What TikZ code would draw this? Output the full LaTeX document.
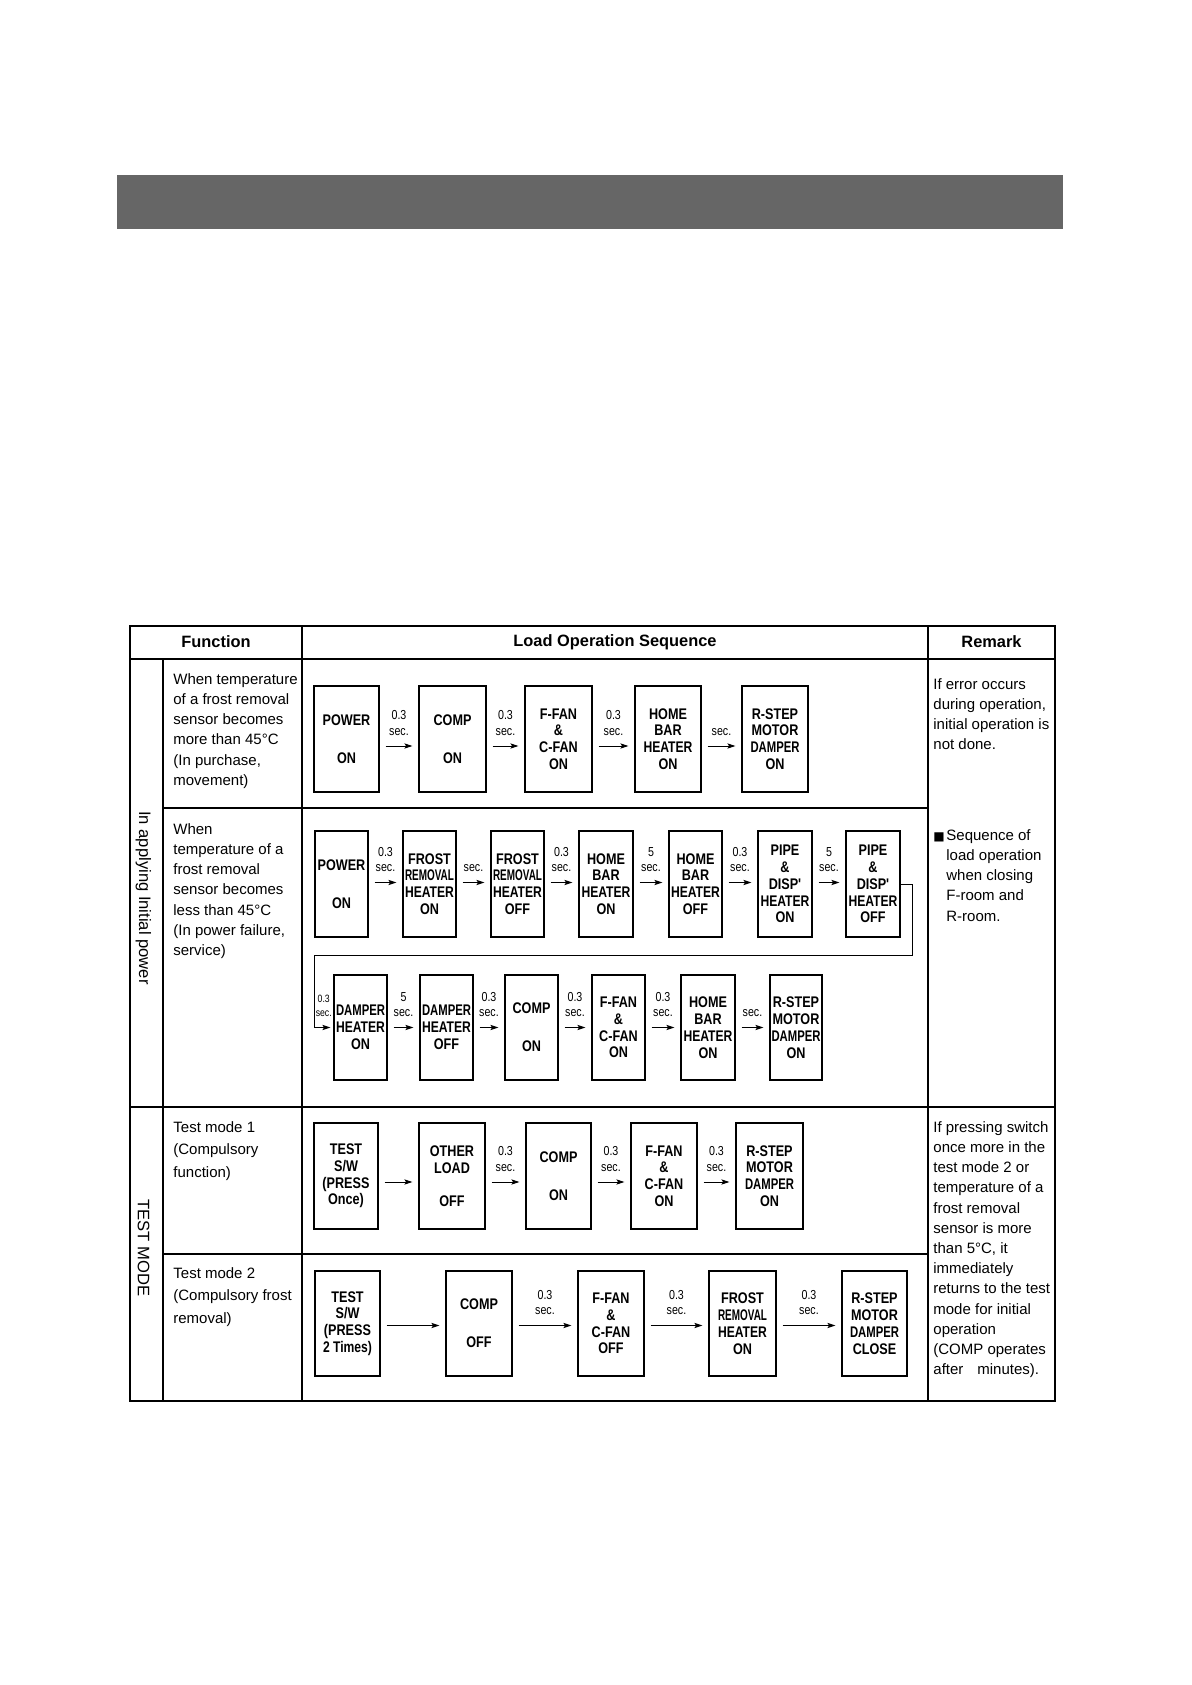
\documentclass[tikz,border=0pt]{standalone}
\usepackage{fontspec}
\usepackage{graphicx}
\setmainfont{Liberation Sans}
\newfontfamily\condfont{Liberation Sans}[FakeStretch=0.82]
\newfontfamily\djv{DejaVu Sans}
\usetikzlibrary{arrows.meta}
\definecolor{barg}{HTML}{666666}
\newlength\fitw
\newcommand\fitl[1]{\settowidth\fitw{#1}\ifdim\fitw>24.5pt\resizebox{24.5pt}{\height}{#1}\else #1\fi}
\newcommand\mkbox[6]{\node[bxs, minimum width={(#4-#2)*0.5pt}, minimum height={(#5-#3)*0.5pt}] (#1) at ({(#2+#4)/2},{(#3+#5)/2}) {#6};}
\begin{document}
\begin{tikzpicture}[x=0.5pt,y=-0.5pt,
  bxs/.style={draw, line width=0.55pt, inner sep=0pt, align=center, font=\condfont\bfseries\fontsize{7.7}{8.4}\selectfont},
  arr/.style={-{Stealth[length=4pt,width=2.6pt,inset=0.8pt]}, line width=0.5pt, shorten <=3pt, shorten >=3pt},
  lbl/.style={inner sep=0pt, align=center, anchor=south, yshift=5pt, font=\condfont\fontsize{6.5}{7.75}\selectfont},
  tbl/.style={line width=0.6pt},
  ftxt/.style={inner sep=0pt, align=left, anchor=north west, font=\fontsize{7.5}{10.1}\selectfont},
  ttxt/.style={ftxt, font=\fontsize{7.5}{11.3}\selectfont},
  hdr/.style={inner sep=0pt, font=\bfseries\fontsize{8.2}{10}\selectfont},
  rot/.style={inner sep=0pt, rotate=-90, font=\fontsize{8.3}{10}\selectfont}]
\fill[white] (0,0) rectangle (1191,1685);
\useasboundingbox (0,0) rectangle (1191,1685);
% title bar
\fill[barg] (117,175) rectangle (1063,229);
% table
\draw[tbl] (130,626) rectangle (1055,1401);
\draw[tbl] (130,659) -- (1055,659);
\draw[tbl] (163,659) -- (163,1401);
\draw[tbl] (302,626) -- (302,1401);
\draw[tbl] (928,626) -- (928,1401);
\draw[tbl] (163,808) -- (928,808);
\draw[tbl] (130,1107) -- (1055,1107);
\draw[tbl] (163,1254) -- (928,1254);
% headers
\node[hdr] (h1) at (216,642) {Function};
\node[hdr] (h2) at (615,642) {Load Operation Sequence};
\node[hdr] (h3) at (991.5,642) {Remark};
\node[rot] (g1) at (143.5,898) {In applying Initial power};
\node[rot] (g2) at (143.5,1248) {TEST MODE};
% function texts
\node[ftxt] (f1) at (173,673) {When temperature\\of a frost removal\\sensor becomes\\more than 45°C\\(In purchase,\\movement)};
\node[ftxt] (f2) at (173,823) {When\\temperature of a\\frost removal\\sensor becomes\\less than 45°C\\(In power failure,\\service)};
\node[ttxt] (f3) at (173,1121) {Test mode 1\\(Compulsory\\function)};
\node[ttxt] (f4) at (173,1267) {Test mode 2\\(Compulsory frost\\removal)};
% remarks
\node[ftxt] (m1) at (933,678) {If error occurs\\during operation,\\initial operation is\\not done.};
\node[ftxt] (m2) at (933,829) {\makebox[6.5pt][l]{\djv\fontsize{6}{6}\selectfont ■}Sequence of\\\hspace*{6.5pt}load operation\\\hspace*{6.5pt}when closing\\\hspace*{6.5pt}F-room and\\\hspace*{6.5pt}R-room.};
\node[ftxt] (m3) at (933,1121) {If pressing switch\\once more in the\\test mode 2 or\\temperature of a\\frost removal\\sensor is more\\than 5°C, it\\immediately\\returns to the test\\mode for initial\\operation\\(COMP operates\\after\hspace{7pt}minutes).};
% row 1
\mkbox{ra}{314}{686}{379}{792}{POWER\\[10.6pt]ON}
\mkbox{rb}{419}{686}{486}{792}{COMP\\[10.6pt]ON}
\mkbox{rc}{525}{686}{592}{792}{F-FAN\\\&\\C-FAN\\ON}
\mkbox{rd}{635}{686}{701}{792}{HOME\\BAR\\\fitl{HEATER}\\ON}
\mkbox{re}{742}{686}{808}{792}{R-STEP\\MOTOR\\\fitl{DAMPER}\\ON}
\draw[arr] ([yshift=-3.5pt]ra.east) -- node[lbl]{0.3\\sec.} ([yshift=-3.5pt]rb.west);
\draw[arr] ([yshift=-3.5pt]rb.east) -- node[lbl]{0.3\\sec.} ([yshift=-3.5pt]rc.west);
\draw[arr] ([yshift=-3.5pt]rc.east) -- node[lbl]{0.3\\sec.} ([yshift=-3.5pt]rd.west);
\draw[arr] ([yshift=-3.5pt]rd.east) -- node[lbl]{sec.} ([yshift=-3.5pt]re.west);
% row 2
\mkbox{sa}{315}{831}{368}{937}{POWER\\[10.6pt]ON}
\mkbox{sb}{403}{831}{456}{937}{FROST\\\fitl{REMOVAL}\\\fitl{HEATER}\\ON}
\mkbox{sc}{491}{831}{544}{937}{FROST\\\fitl{REMOVAL}\\\fitl{HEATER}\\OFF}
\mkbox{sd}{579}{831}{633}{937}{HOME\\BAR\\\fitl{HEATER}\\ON}
\mkbox{se}{669}{831}{722}{937}{HOME\\BAR\\\fitl{HEATER}\\OFF}
\mkbox{sf}{758}{831}{812}{937}{PIPE\\\&\\DISP'\\\fitl{HEATER}\\ON}
\mkbox{sg}{846}{831}{900}{937}{PIPE\\\&\\DISP'\\\fitl{HEATER}\\OFF}
\draw[arr] ([yshift=0.75pt]sa.east) -- node[lbl]{0.3\\sec.} ([yshift=0.75pt]sb.west);
\draw[arr] ([yshift=0.75pt]sb.east) -- node[lbl]{sec.} ([yshift=0.75pt]sc.west);
\draw[arr] ([yshift=0.75pt]sc.east) -- node[lbl]{0.3\\sec.} ([yshift=0.75pt]sd.west);
\draw[arr] ([yshift=0.75pt]sd.east) -- node[lbl]{5\\sec.} ([yshift=0.75pt]se.west);
\draw[arr] ([yshift=0.75pt]se.east) -- node[lbl]{0.3\\sec.} ([yshift=0.75pt]sf.west);
\draw[arr] ([yshift=0.75pt]sf.east) -- node[lbl]{5\\sec.} ([yshift=0.75pt]sg.west);
% row 3
\mkbox{ua}{334}{975}{387}{1080}{\fitl{DAMPER}\\\fitl{HEATER}\\ON}
\mkbox{ub}{420}{975}{473}{1080}{\fitl{DAMPER}\\\fitl{HEATER}\\OFF}
\mkbox{uc}{505}{975}{558}{1080}{COMP\\[10.6pt]ON}
\mkbox{ud}{592}{975}{645}{1080}{F-FAN\\\&\\C-FAN\\ON}
\mkbox{ue}{681}{975}{735}{1080}{HOME\\BAR\\\fitl{HEATER}\\ON}
\mkbox{uf}{770}{975}{822}{1080}{R-STEP\\MOTOR\\\fitl{DAMPER}\\ON}
\draw[arr, shorten <=0pt, shorten >=1.5pt] (sg.east) -- ++(6pt,0) |- (314,955) |- node[lbl, pos=0.75, font=\condfont\fontsize{5.3}{7.3}\selectfont]{0.3\\sec.} (ua.west);
\draw[arr] (ua.east) -- node[lbl]{5\\sec.} (ub.west);
\draw[arr] (ub.east) -- node[lbl]{0.3\\sec.} (uc.west);
\draw[arr] (uc.east) -- node[lbl]{0.3\\sec.} (ud.west);
\draw[arr] (ud.east) -- node[lbl]{0.3\\sec.} (ue.west);
\draw[arr] (ue.east) -- node[lbl]{sec.} (uf.west);
% test mode 1
\mkbox{va}{314}{1123}{378}{1229}{TEST\\S/W\\(PRESS\\Once)}
\mkbox{vb}{419}{1123}{485}{1229}{OTHER\\LOAD\\[8.3pt]OFF}
\mkbox{vc}{526}{1123}{591}{1229}{COMP\\[10.6pt]ON}
\mkbox{vd}{631}{1123}{697}{1229}{F-FAN\\\&\\C-FAN\\ON}
\mkbox{ve}{736}{1123}{803}{1229}{R-STEP\\MOTOR\\\fitl{DAMPER}\\ON}
\draw[arr] ([yshift=-3pt]va.east) -- ([yshift=-3pt]vb.west);
\draw[arr] ([yshift=-3pt]vb.east) -- node[lbl]{0.3\\sec.} ([yshift=-3pt]vc.west);
\draw[arr] ([yshift=-3pt]vc.east) -- node[lbl]{0.3\\sec.} ([yshift=-3pt]vd.west);
\draw[arr] ([yshift=-3pt]vd.east) -- node[lbl]{0.3\\sec.} ([yshift=-3pt]ve.west);
% test mode 2
\mkbox{wa}{315}{1271}{380}{1376}{TEST\\S/W\\(PRESS\\\fitl{2 Times)}}
\mkbox{wb}{446}{1271}{512}{1376}{COMP\\[10.6pt]OFF}
\mkbox{wc}{578}{1271}{644}{1376}{F-FAN\\\&\\C-FAN\\OFF}
\mkbox{wd}{709}{1271}{776}{1376}{FROST\\\fitl{REMOVAL}\\\fitl{HEATER}\\ON}
\mkbox{we}{842}{1271}{907}{1376}{R-STEP\\MOTOR\\\fitl{DAMPER}\\CLOSE}
\draw[arr] ([yshift=-1pt]wa.east) -- ([yshift=-1pt]wb.west);
\draw[arr] ([yshift=-1pt]wb.east) -- node[lbl]{0.3\\sec.} ([yshift=-1pt]wc.west);
\draw[arr] ([yshift=-1pt]wc.east) -- node[lbl]{0.3\\sec.} ([yshift=-1pt]wd.west);
\draw[arr] ([yshift=-1pt]wd.east) -- node[lbl]{0.3\\sec.} ([yshift=-1pt]we.west);
\end{tikzpicture}
\end{document}
